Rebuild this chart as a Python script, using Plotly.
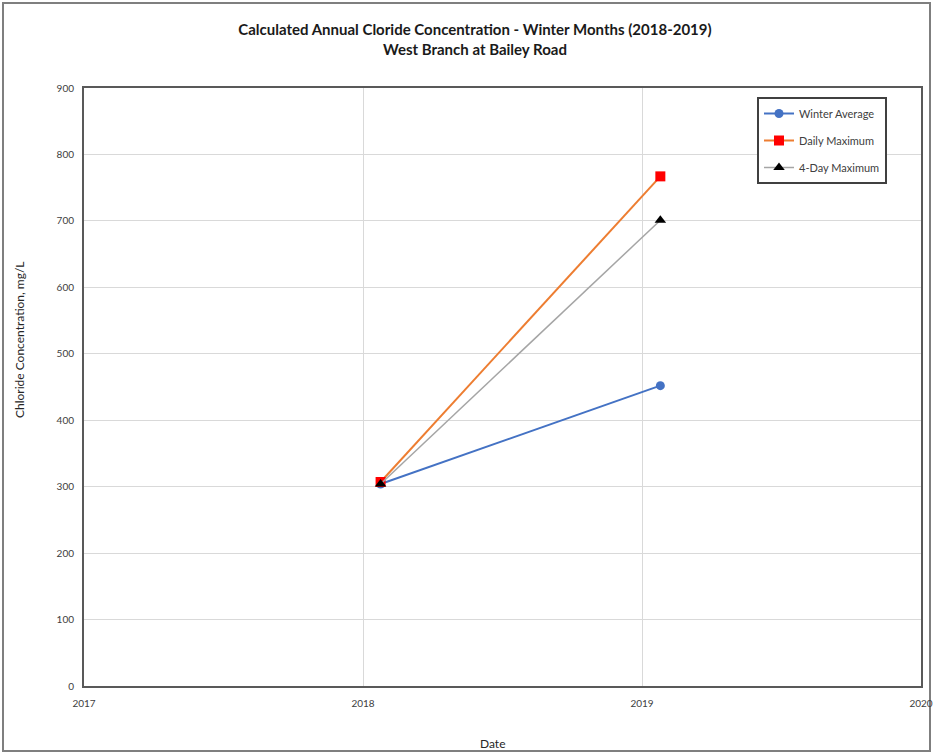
import plotly.graph_objects as go

dates = ["2018-01-24", "2019-01-25"]
winter_avg = [304, 452]
daily_max = [307, 767]
four_day_max = [304, 701]

W, H = 933, 754
L, R, T, B = 84, 12, 88, 68
pw, ph = W - L - R, H - T - B

def px_x(x):
    return (x - L) / pw

def px_y(y):
    return (H - B - y) / ph

font = "Lato, 'Open Sans', Arial, sans-serif"

fig = go.Figure()
fig.add_trace(go.Scatter(x=dates, y=winter_avg, name="Winter Average", mode="lines+markers",
                         legendgroup="a",
                         line=dict(color="#4472C4", width=2),
                         marker=dict(symbol="circle", size=9, color="#4472C4")))
fig.add_trace(go.Scatter(x=dates, y=daily_max, name="Daily Maximum", mode="lines+markers",
                         legendgroup="b",
                         line=dict(color="#ED7D31", width=2),
                         marker=dict(symbol="square", size=10, color="#FF0000")))
fig.add_trace(go.Scatter(x=dates, y=four_day_max, name="4-Day Maximum", mode="lines+markers",
                         legendgroup="c",
                         line=dict(color="#A5A5A5", width=1.5),
                         marker=dict(symbol="triangle-up", size=10, color="#000000")))

fig.update_layout(
    width=W, height=H,
    margin=dict(l=L, r=R, t=T, b=B, autoexpand=False),
    paper_bgcolor="white", plot_bgcolor="white",
    font=dict(family=font, size=10, color="#404040"),
    title=dict(text="<b>Calculated Annual Cloride Concentration - Winter Months (2018-2019)<br>West Branch at Bailey Road</b>",
               x=475 / W, xanchor="center", y=1 - 35 / H, yanchor="middle",
               font=dict(family=font, size=15, color="#1a1a1a")),
    xaxis=dict(type="date", range=["2017-01-01", "2020-01-01"], dtick="M12", tick0="2017-01-01",
               tickformat="%Y", showgrid=True, gridcolor="#D9D9D9", gridwidth=1,
               showline=True, linecolor="#595959", linewidth=2, mirror=True,
               ticks="", ticklabelstandoff=7, automargin=False),
    yaxis=dict(range=[0, 900], dtick=100, showgrid=True, gridcolor="#D9D9D9", gridwidth=1,
               showline=True, linecolor="#595959", linewidth=2, mirror=True,
               ticks="", zeroline=False, ticklabelstandoff=6, automargin=False),
    legend=dict(x=px_x(757), y=px_y(97), xanchor="left", yanchor="top",
                bordercolor="#404040", borderwidth=2, bgcolor="white",
                font=dict(size=11, color="#404040"), tracegroupgap=8,
                itemwidth=30),
    showlegend=True,
    annotations=[
        dict(text="Chloride Concentration, mg/L", xref="paper", yref="paper",
             x=px_x(19), y=px_y(340), textangle=-90, showarrow=False,
             xanchor="center", yanchor="middle",
             font=dict(size=12, color="#262626")),
        dict(text="Date", xref="paper", yref="paper",
             x=px_x(492), y=px_y(743), showarrow=False,
             xanchor="center", yanchor="middle",
             font=dict(size=12, color="#262626")),
    ],
    shapes=[dict(type="rect", xref="paper", yref="paper",
                 x0=px_x(3), x1=px_x(930), y0=px_y(751), y1=px_y(3),
                 line=dict(color="#7F7F7F", width=2), layer="below")],
)

fig.write_html("out.html", config={"displayModeBar": False},
               post_script="document.body.style.margin='0';document.body.style.overflow='hidden';document.documentElement.style.overflow='hidden';")
